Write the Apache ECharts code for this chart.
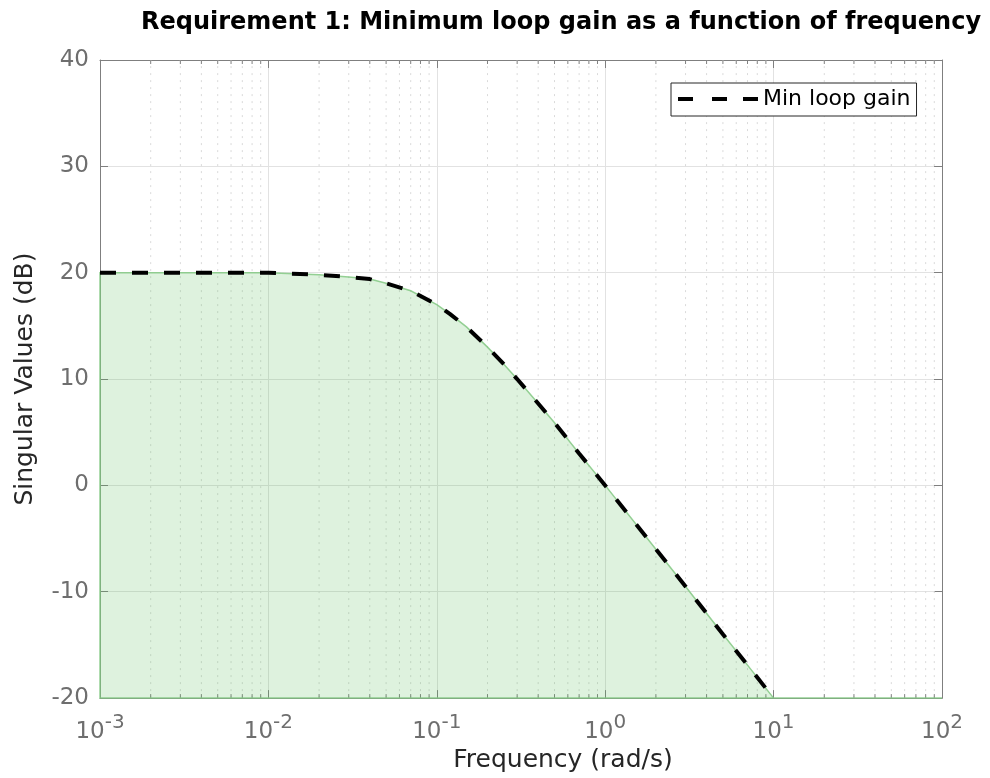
<!DOCTYPE html>
<html>
<head>
<meta charset="utf-8">
<script src="https://cdn.jsdelivr.net/npm/echarts@6/dist/echarts.min.js"></script>
<style>
html,body{margin:0;padding:0;background:#fff;overflow:hidden;}
#chart{width:990px;height:778px;}
</style>
</head>
<body>
<div id="chart"></div>
<script>
// Data
const freq = [0.001, 0.01, 0.02, 0.03, 0.04, 0.05, 0.07, 0.1, 0.12, 0.15, 0.2, 0.25, 0.3, 0.4, 0.5, 0.7, 1, 2, 3, 5, 7, 10];
const gain = [20.0, 20.0, 19.8, 19.6, 19.4, 19.0, 18.3, 17.0, 16.1, 14.9, 13.0, 11.4, 10.0, 7.7, 5.9, 3.0, 0.0, -6.0, -9.5, -14.0, -16.9, -20.0];
const seriesName = 'Min loop gain';
const xMin = 0.001, xMax = 100;
const yMin = -20, yMax = 40, yStep = 10;
const decades = [-3, -2, -1, 0, 1];
const minorMultipliers = [2, 3, 4, 5, 6, 7, 8, 9];
const titleText = 'Requirement 1: Minimum loop gain as a function of frequency';
const xName = 'Frequency (rad/s)';
const yName = 'Singular Values (dB)';

const FONT = 'DejaVu Sans';
const curve = freq.map((f, i) => [f, gain[i]]);
const minorX = [];
decades.forEach(d => minorMultipliers.forEach(m => minorX.push(m * Math.pow(10, d))));

const chart = echarts.init(document.getElementById('chart'));

const axisGray = '#7f7f7f';
const labelGray = '#6e6e6e';

chart.setOption({
  animation: false,
  backgroundColor: '#fff',
  title: {
    text: titleText,
    left: 136,
    top: 6,
    textStyle: {fontFamily: FONT, fontWeight: 'bold', fontSize: 24, color: '#000'}
  },
  legend: {
    data: [{name: seriesName, icon: 'path://M0,0H15V4H0Z M34,0H49V4H34Z M65,0H80V4H65Z'}],
    left: 671,
    top: 83,
    padding: [5, 6, 6, 7],
    itemWidth: 80,
    itemHeight: 4,
    borderColor: '#262626',
    borderWidth: 1,
    backgroundColor: '#fff',
    itemStyle: {color: '#000', borderWidth: 0},
    textStyle: {fontFamily: FONT, fontSize: 22, color: '#000'}
  },
  grid: {left: 100, right: 48, top: 60, bottom: 76, containLabel: false},
  xAxis: [{
    type: 'log', logBase: 10, min: xMin, max: xMax, splitNumber: 5,
    position: 'bottom',
    axisLine: {show: true, onZero: false, lineStyle: {color: axisGray, width: 1}},
    axisTick: {show: true, inside: true, length: 8, lineStyle: {color: axisGray}},
    splitLine: {show: true, lineStyle: {color: '#e2e2e2', width: 1}},
    minorTick: {show: false},
    axisLabel: {
      margin: 15,
      color: labelGray,
      fontFamily: FONT,
      formatter: function (v) {
        const e = Math.round(Math.log10(v));
        return '{b|10}{e|' + e + '}';
      },
      rich: {
        b: {fontFamily: FONT, fontSize: 23, color: labelGray, verticalAlign: 'bottom', padding: [7, 0, 0, 0]},
        e: {fontFamily: FONT, fontSize: 20, color: labelGray, verticalAlign: 'top'}
      }
    },
    name: xName,
    nameLocation: 'middle',
    nameGap: 46,
    nameTextStyle: {fontFamily: FONT, fontSize: 25, color: '#262626', padding: [0, 0, 0, 84]}
  }, {
    type: 'log', logBase: 10, min: xMin, max: xMax, splitNumber: 5,
    position: 'top',
    axisLine: {show: true, onZero: false, lineStyle: {color: axisGray, width: 1}},
    axisTick: {show: true, inside: true, length: 8, lineStyle: {color: axisGray}},
    axisLabel: {show: false},
    splitLine: {show: false}
  }],
  yAxis: [{
    type: 'value', min: yMin, max: yMax, interval: yStep,
    position: 'left',
    axisLine: {show: true, onZero: false, lineStyle: {color: axisGray, width: 1}},
    axisTick: {show: true, inside: true, length: 8, lineStyle: {color: axisGray}},
    splitLine: {show: true, lineStyle: {color: '#e2e2e2', width: 1}},
    axisLabel: {fontFamily: FONT, fontSize: 23, color: labelGray, margin: 11},
    name: yName,
    nameLocation: 'middle',
    nameGap: 62,
    nameTextStyle: {fontFamily: FONT, fontSize: 25, color: '#262626'}
  }, {
    type: 'value', min: yMin, max: yMax, interval: yStep,
    position: 'right',
    axisLine: {show: true, onZero: false, lineStyle: {color: axisGray, width: 1}},
    axisTick: {show: true, inside: true, length: 8, lineStyle: {color: axisGray}},
    axisLabel: {show: false},
    splitLine: {show: false}
  }],
  series: [{
    type: 'custom',
    name: 'minor',
    silent: true,
    z: 1,
    xAxisIndex: 0, yAxisIndex: 0,
    data: [[1, 0]],
    renderItem: function (params, api) {
      const children = [];
      minorX.forEach(x => {
        const pb = api.coord([x, yMin]);
        const pt = api.coord([x, yMax]);
        children.push({type: 'line', shape: {x1: pb[0], y1: pb[1], x2: pt[0], y2: pt[1]},
          style: {stroke: '#dadada', lineWidth: 1, lineDash: [2, 5]}});
        children.push({type: 'line', shape: {x1: pb[0], y1: pb[1], x2: pb[0], y2: pb[1] - 4},
          style: {stroke: axisGray, lineWidth: 1}});
        children.push({type: 'line', shape: {x1: pt[0], y1: pt[1], x2: pt[0], y2: pt[1] + 4},
          style: {stroke: axisGray, lineWidth: 1}});
      });
      return {type: 'group', children: children};
    }
  }, {
    type: 'custom',
    name: 'region',
    silent: true,
    z: 2,
    xAxisIndex: 0, yAxisIndex: 0,
    data: [[1, 0]],
    renderItem: function (params, api) {
      const pts = [api.coord([xMin, yMin])];
      curve.forEach(p => pts.push(api.coord(p)));
      pts.push(api.coord([xMax, yMin]));
      return {type: 'polygon', shape: {points: pts},
        style: {fill: 'rgba(90,190,90,0.2)', stroke: 'rgba(130,200,130,0.85)', lineWidth: 1.5}};
    }
  }, {
    type: 'line',
    name: seriesName,
    data: curve,
    showSymbol: false,
    symbol: 'none',
    z: 5,
    color: '#000',
    lineStyle: {color: '#000', width: 4, type: [16, 16]}
  }]
});
</script>
</body>
</html>
